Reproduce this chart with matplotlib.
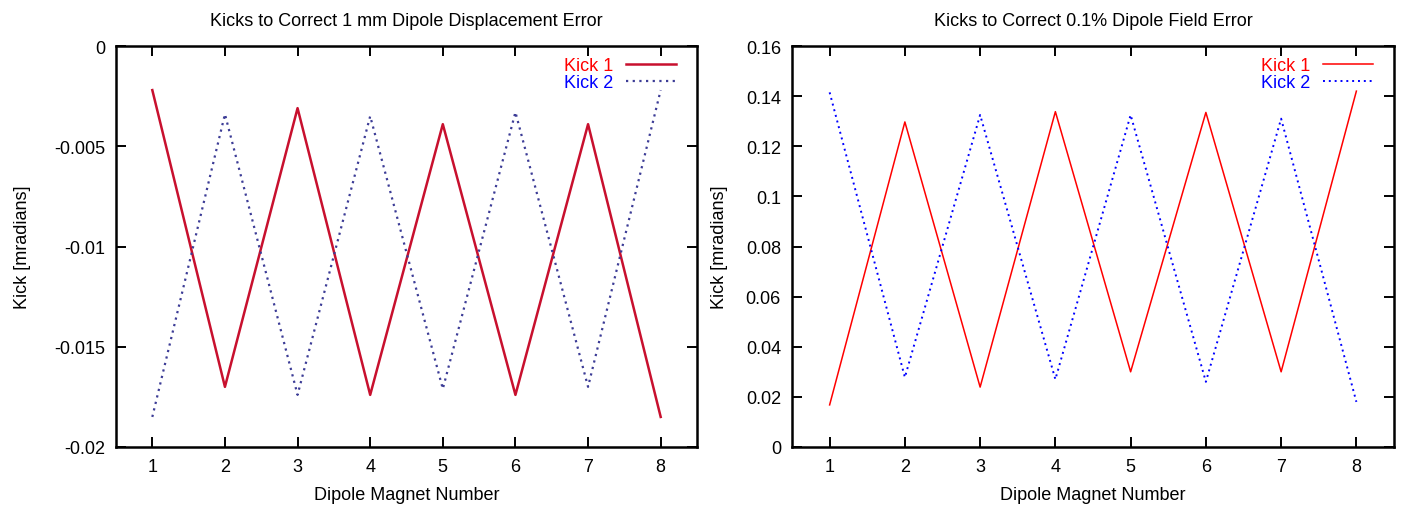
import matplotlib
matplotlib.use("Agg")
import matplotlib.pyplot as plt

# Data
magnets = [1, 2, 3, 4, 5, 6, 7, 8]

disp_kick1 = [-0.0022, -0.0170, -0.0031, -0.0174, -0.0039, -0.0174, -0.0039, -0.0185]
disp_kick2 = [-0.0185, -0.0034, -0.0174, -0.0035, -0.0171, -0.0033, -0.0170, -0.0022]

field_kick1 = [0.0168, 0.1297, 0.0239, 0.1338, 0.0300, 0.1335, 0.0300, 0.1420]
field_kick2 = [0.1415, 0.0278, 0.1325, 0.0270, 0.1325, 0.0260, 0.1310, 0.0180]

plt.rcParams['font.family'] = ['Liberation Sans', 'DejaVu Sans']
plt.rcParams['font.size'] = 13

fig = plt.figure(figsize=(14.02, 5.06), dpi=100)
ax1 = fig.add_axes([116 / 1402, 58 / 506, 581 / 1402, 401 / 506])
ax2 = fig.add_axes([792 / 1402, 58 / 506, 602 / 1402, 401 / 506])


def style_axes(ax, ylab_x):
    for sp in ax.spines.values():
        sp.set_linewidth(1.8)
    ax.tick_params(direction='in', top=True, right=True, length=7, width=1.4,
                   labelsize=13, pad=8)
    ax.set_xlim(0.5, 8.5)
    ax.set_xticks(magnets)
    ax.set_xlabel('Dipole Magnet Number', fontsize=13, labelpad=7.5)
    ax.set_ylabel('Kick [mradians]', fontsize=13)
    ax.yaxis.set_label_coords(ylab_x, 0.5)


# left panel
ax1.plot(magnets, disp_kick1, color='#c8102e', lw=1.8, label='Kick 1')
ax1.plot(magnets, disp_kick2, color='#3c3c96', lw=1.6, linestyle=(0, (1, 2)),
         label='Kick 2')
ax1.set_ylim(-0.02, 0)
ax1.set_yticks([-0.02, -0.015, -0.01, -0.005, 0])
ax1.set_yticklabels(['-0.02', '-0.015', '-0.01', '-0.005', '0'])
ax1.set_title('Kicks to Correct 1 mm Dipole Displacement Error', fontsize=13, pad=15)
style_axes(ax1, -0.146)

# right panel
ax2.plot(magnets, field_kick1, color='#ff0000', lw=1.1, label='Kick 1')
ax2.plot(magnets, field_kick2, color='#0000ff', lw=1.4, linestyle=(0, (1, 2)),
         label='Kick 2')
ax2.set_ylim(0, 0.16)
ax2.set_yticks([0, 0.02, 0.04, 0.06, 0.08, 0.1, 0.12, 0.14, 0.16])
ax2.set_yticklabels(['0', '0.02', '0.04', '0.06', '0.08', '0.1', '0.12', '0.14', '0.16'])
ax2.set_title('Kicks to Correct 0.1% Dipole Field Error', fontsize=13, pad=15)
style_axes(ax2, -0.106)

for ax, xr in ((ax1, 1 - 21 / 581), (ax2, 1 - 21 / 602)):
    leg = ax.legend(loc='upper right', bbox_to_anchor=(xr, 0.973), frameon=False,
                    markerfirst=False, handlelength=2.75, handletextpad=0.75,
                    labelspacing=0.0, borderaxespad=0, borderpad=0, fontsize=13)
    for txt, col in zip(leg.get_texts(), ['#ff0000', '#0000ff']):
        txt.set_color(col)

fig.savefig('out.png', dpi=100)
